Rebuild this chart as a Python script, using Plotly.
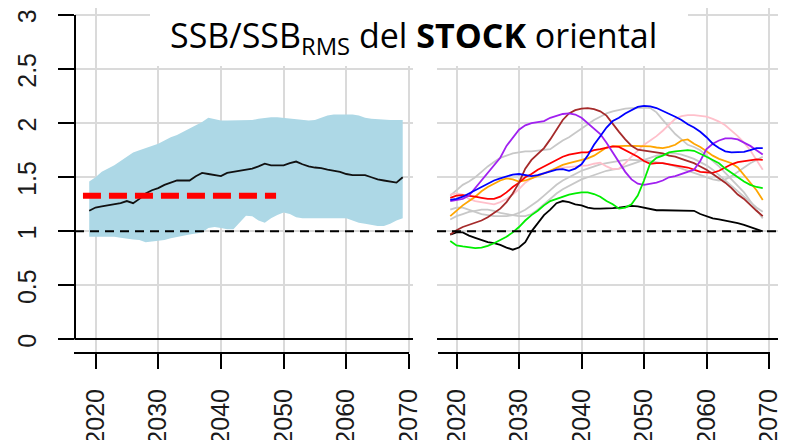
import plotly.graph_objects as go

# --- data ---
years = list(range(2019, 2070))

# left panel: median and envelope
median = [1.19, 1.22, 1.23, 1.24, 1.25, 1.26, 1.28, 1.26, 1.30, 1.35,
          1.38, 1.40, 1.43, 1.45, 1.47, 1.47, 1.47, 1.51, 1.54, 1.53,
          1.52, 1.51, 1.54, 1.55, 1.56, 1.57, 1.58, 1.60, 1.625, 1.61,
          1.61, 1.61, 1.63, 1.645, 1.62, 1.60, 1.59, 1.585, 1.57, 1.56,
          1.55, 1.53, 1.52, 1.52, 1.52, 1.50, 1.48, 1.47, 1.46, 1.45, 1.50]
upper = [1.46, 1.50, 1.55, 1.58, 1.61, 1.65, 1.69, 1.73, 1.75, 1.77,
         1.79, 1.81, 1.84, 1.87, 1.89, 1.92, 1.95, 1.98, 2.01, 2.05,
         2.04, 2.025, 2.025, 2.025, 2.025, 2.025, 2.03, 2.04, 2.05, 2.055,
         2.055, 2.05, 2.045, 2.04, 2.03, 2.025, 2.03, 2.05, 2.07, 2.08,
         2.08, 2.08, 2.08, 2.07, 2.05, 2.04, 2.035, 2.03, 2.03, 2.03, 2.03]
lower = [0.95, 0.95, 0.95, 0.95, 0.95, 0.94, 0.93, 0.925, 0.92, 0.90,
         0.905, 0.91, 0.92, 0.935, 0.95, 0.96, 0.97, 0.98, 0.99, 1.03,
         1.04, 1.03, 1.02, 1.02, 1.08, 1.145, 1.14, 1.10, 1.08, 1.12,
         1.15, 1.175, 1.16, 1.13, 1.12, 1.12, 1.12, 1.12, 1.12, 1.12,
         1.12, 1.12, 1.10, 1.08, 1.07, 1.06, 1.05, 1.05, 1.07, 1.10, 1.12]

target_years = [2018, 2048.8]
target_level = [1.33, 1.33]
ref_level = 1

# right panel: individual trajectories
traj_gray1 = [1.33, 1.38, 1.43, 1.46, 1.50, 1.55, 1.60, 1.64, 1.68, 1.70,
              1.72, 1.73, 1.74, 1.74, 1.745, 1.75, 1.76, 1.80, 1.84, 1.87,
              1.91, 1.95, 1.99, 2.03, 2.06, 2.09, 2.11, 2.125, 2.135, 2.14,
              2.145, 2.145, 2.14, 2.10, 2.03, 1.96, 1.90, 1.85, 1.80, 1.78,
              1.75, 1.70, 1.65, 1.60, 1.54, 1.48, 1.42, 1.36, 1.28, 1.20, 1.12]
traj_gray2 = [1.20, 1.22, 1.22, 1.20, 1.18, 1.16, 1.15, 1.14, 1.14, 1.14,
              1.15, 1.17, 1.20, 1.24, 1.28, 1.33, 1.38, 1.43, 1.47, 1.50,
              1.53, 1.56, 1.58, 1.60, 1.62, 1.63, 1.64, 1.65, 1.66, 1.66,
              1.66, 1.655, 1.65, 1.64, 1.63, 1.62, 1.60, 1.58, 1.56, 1.54,
              1.52, 1.50, 1.48, 1.47, 1.48, 1.51, 1.55, 1.59, 1.63, 1.66, 1.69]
traj_gray3 = [1.11, 1.14, 1.16, 1.18, 1.19, 1.20, 1.20, 1.19, 1.17, 1.16,
              1.15, 1.14, 1.14, 1.16, 1.20, 1.25, 1.30, 1.35, 1.39, 1.42,
              1.45, 1.48, 1.50, 1.52, 1.54, 1.56, 1.57, 1.58, 1.60, 1.62,
              1.64, 1.66, 1.68, 1.70, 1.71, 1.72, 1.72, 1.71, 1.69, 1.67,
              1.64, 1.61, 1.57, 1.52, 1.47, 1.42, 1.37, 1.32, 1.27, 1.22, 1.18]
traj_pink = [1.34, 1.35, 1.34, 1.30, 1.28, 1.27, 1.255, 1.25, 1.27, 1.30,
             1.34, 1.39, 1.45, 1.49, 1.52, 1.54, 1.56, 1.58, 1.59, 1.595,
             1.60, 1.60, 1.61, 1.625, 1.635, 1.60, 1.575, 1.58, 1.63, 1.69,
             1.75, 1.80, 1.84, 1.88, 1.93, 1.99, 2.04, 2.065, 2.075, 2.075,
             2.07, 2.06, 2.04, 2.015, 1.98, 1.93, 1.88, 1.82, 1.75, 1.66, 1.57]
traj_orange = [1.14, 1.19, 1.24, 1.28, 1.32, 1.37, 1.41, 1.44, 1.47, 1.49,
               1.48, 1.46, 1.47, 1.49, 1.51, 1.535, 1.56, 1.59, 1.615, 1.63,
               1.645, 1.66, 1.675, 1.70, 1.74, 1.775, 1.785, 1.79, 1.79, 1.79,
               1.79, 1.79, 1.785, 1.775, 1.77, 1.78, 1.80, 1.84, 1.85, 1.81,
               1.78, 1.74, 1.70, 1.67, 1.65, 1.63, 1.59, 1.52, 1.46, 1.38, 1.29]
traj_red = [1.31, 1.33, 1.335, 1.33, 1.32, 1.31, 1.30, 1.30, 1.32, 1.36,
            1.41, 1.45, 1.50, 1.53, 1.57, 1.60, 1.63, 1.66, 1.69, 1.71,
            1.72, 1.73, 1.73, 1.75, 1.76, 1.77, 1.785, 1.78, 1.75, 1.72,
            1.69, 1.65, 1.625, 1.63, 1.63, 1.62, 1.61, 1.60, 1.59, 1.57,
            1.55, 1.545, 1.54, 1.56, 1.59, 1.62, 1.64, 1.65, 1.66, 1.665, 1.66]
traj_brown = [0.97, 1.01, 1.04, 1.06, 1.075, 1.10, 1.13, 1.17, 1.21, 1.27,
              1.35, 1.45, 1.58, 1.66, 1.72, 1.77, 1.85, 1.94, 2.03, 2.09,
              2.12, 2.135, 2.14, 2.13, 2.11, 2.07, 1.99, 1.92, 1.85, 1.79,
              1.755, 1.745, 1.74, 1.73, 1.72, 1.70, 1.69, 1.67, 1.65, 1.63,
              1.60, 1.57, 1.53, 1.49, 1.45, 1.40, 1.34, 1.30, 1.24, 1.19, 1.14]
traj_purple = [1.28, 1.29, 1.30, 1.33, 1.40, 1.47, 1.54, 1.61, 1.68, 1.79,
               1.87, 1.94, 1.98, 2.00, 2.01, 2.02, 2.05, 2.07, 2.085, 2.09,
               2.08, 2.05, 2.00, 1.95, 1.90, 1.82, 1.73, 1.63, 1.55, 1.48,
               1.44, 1.43, 1.44, 1.45, 1.47, 1.50, 1.51, 1.53, 1.545, 1.57,
               1.65, 1.76, 1.81, 1.84, 1.86, 1.86, 1.85, 1.82, 1.79, 1.75, 1.71]
traj_blue = [1.29, 1.30, 1.32, 1.35, 1.38, 1.41, 1.44, 1.47, 1.49, 1.51,
             1.525, 1.53, 1.52, 1.51, 1.52, 1.535, 1.55, 1.57, 1.575, 1.56,
             1.58, 1.62, 1.70, 1.80, 1.88, 1.96, 2.02, 2.05, 2.09, 2.12,
             2.15, 2.16, 2.155, 2.14, 2.115, 2.09, 2.06, 2.03, 1.99, 1.96,
             1.92, 1.87, 1.81, 1.77, 1.74, 1.73, 1.73, 1.735, 1.75, 1.77, 1.77]
traj_green = [0.91, 0.87, 0.86, 0.85, 0.845, 0.85, 0.865, 0.89, 0.92, 0.95,
              0.99, 1.04, 1.10, 1.15, 1.19, 1.24, 1.28, 1.30, 1.32, 1.34,
              1.35, 1.36, 1.36, 1.345, 1.32, 1.28, 1.25, 1.21, 1.22, 1.25,
              1.33, 1.47, 1.63, 1.68, 1.70, 1.73, 1.74, 1.745, 1.75, 1.745,
              1.72, 1.69, 1.66, 1.63, 1.58, 1.54, 1.50, 1.46, 1.43, 1.41, 1.40]
traj_black = [0.97, 0.99, 0.99, 0.96, 0.94, 0.92, 0.90, 0.89, 0.875, 0.85,
              0.83, 0.85, 0.90, 1.00, 1.08, 1.15, 1.20, 1.26, 1.28, 1.27,
              1.25, 1.24, 1.22, 1.21, 1.21, 1.21, 1.215, 1.22, 1.23, 1.235,
              1.23, 1.22, 1.21, 1.195, 1.195, 1.195, 1.195, 1.195, 1.195, 1.19,
              1.16, 1.14, 1.12, 1.11, 1.10, 1.09, 1.075, 1.06, 1.04, 1.02, 1.00]

trajectories = [
    (traj_black, "black"),
    (traj_gray1, "#c8c8c8"),
    (traj_gray2, "#c8c8c8"),
    (traj_gray3, "#c8c8c8"),
    (traj_pink, "#ffc0cb"),
    (traj_orange, "#ffa500"),
    (traj_red, "#ff0000"),
    (traj_brown, "#a52a2a"),
    (traj_purple, "#a020f0"),
    (traj_blue, "#0000ff"),
    (traj_green, "#00ee00"),
]

# the page body keeps its default 8px margin, so the figure is 8px smaller
OFF = 8
W, H = 795 - OFF, 440 - OFF


def fx(px):
    # window pixel -> paper x
    return (px - OFF) / W


def fy(px):
    # window pixel -> paper y
    return 1 - (px - OFF) / H


GRID = "#dadada"
TICK_FONT = dict(family="Liberation Sans, Arial", size=25, color="#1a1a1a")

fig = go.Figure()

# envelope
fig.add_trace(go.Scatter(x=years, y=lower, mode="lines", line=dict(width=0),
                         showlegend=False, hoverinfo="skip", xaxis="x", yaxis="y"))
fig.add_trace(go.Scatter(x=years, y=upper, mode="lines", line=dict(width=0),
                         fill="tonexty", fillcolor="#add8e6",
                         showlegend=False, xaxis="x", yaxis="y"))
fig.add_trace(go.Scatter(x=years, y=median, mode="lines",
                         line=dict(color="#111111", width=1.8),
                         showlegend=False, xaxis="x", yaxis="y"))
fig.add_trace(go.Scatter(x=target_years, y=target_level, mode="lines",
                         line=dict(color="#ff0000", width=6, dash="18px,8px"),
                         showlegend=False, xaxis="x", yaxis="y"))

for values, colour in trajectories:
    fig.add_trace(go.Scatter(x=years, y=values, mode="lines",
                             line=dict(color=colour, width=1.8),
                             showlegend=False, xaxis="x2", yaxis="y2"))

x_common = dict(tickmode="array", tickvals=[2020, 2030, 2040, 2050, 2060, 2070],
                ticks="outside", ticklen=15, tickwidth=2, tickcolor="black",
                tickangle=-90, tickfont=TICK_FONT, ticklabelstandoff=10,
                ticklabeloverflow="allow",
                showgrid=True, gridcolor=GRID, gridwidth=2,
                zeroline=False, showline=False, automargin=False)
y_common = dict(range=[-0.125, 3.065], domain=[fy(353), fy(8)],
                tickvals=[0, 0.5, 1, 1.5, 2, 2.5, 3],
                showgrid=True, gridcolor=GRID, gridwidth=2,
                zeroline=True, zerolinecolor="black", zerolinewidth=2,
                showline=False, automargin=False)

fig.update_layout(
    width=W, height=H,
    margin=dict(l=0, r=0, t=0, b=0, autoexpand=False),
    plot_bgcolor="white", paper_bgcolor="white",
    xaxis=dict(x_common, domain=[fx(75), fx(413)], range=[2016.73, 2070.64], anchor="y"),
    xaxis2=dict(x_common, domain=[fx(437), fx(778)], range=[2016.88, 2071.44], anchor="y2"),
    yaxis=dict(y_common, anchor="x", ticks="outside", ticklen=16, tickwidth=2,
               tickcolor="black", tickangle=-90, tickfont=TICK_FONT,
               ticklabelstandoff=12, ticklabelshift=5, tickformat="~g",
               ticklabeloverflow="allow"),
    yaxis2=dict(y_common, anchor="x2", showticklabels=False, ticks=""),
    shapes=[
        # reference level
        dict(type="line", xref="x domain", yref="y", x0=0, x1=1, y0=ref_level, y1=ref_level,
             line=dict(color="black", width=2, dash="9px,6px")),
        dict(type="line", xref="x2 domain", yref="y2", x0=0, x1=1, y0=ref_level, y1=ref_level,
             line=dict(color="black", width=2, dash="9px,6px")),
        # y axis line (tick span only)
        dict(type="line", xref="paper", yref="y", x0=fx(75), x1=fx(75), y0=0, y1=3,
             line=dict(color="black", width=2)),
        # bottom axis lines
        dict(type="line", xref="paper", yref="paper", x0=fx(74), x1=fx(409),
             y0=fy(353), y1=fy(353), line=dict(color="black", width=2)),
        dict(type="line", xref="paper", yref="paper", x0=fx(438), x1=fx(770),
             y0=fy(353), y1=fy(353), line=dict(color="black", width=2)),
        # white box behind title
        dict(type="rect", xref="paper", yref="paper", x0=fx(150), x1=fx(688),
             y0=fy(66), y1=1, fillcolor="white", line=dict(width=0), layer="above"),
    ],
    annotations=[
        dict(text="SSB/SSB<sub>RMS</sub> del <b>STOCK</b> oriental",
             xref="paper", yref="paper", x=fx(413), y=fy(37),
             xanchor="center", yanchor="middle", showarrow=False,
             font=dict(family="Open Sans", size=34, color="black")),
    ],
)

fig.write_html("out.html")
